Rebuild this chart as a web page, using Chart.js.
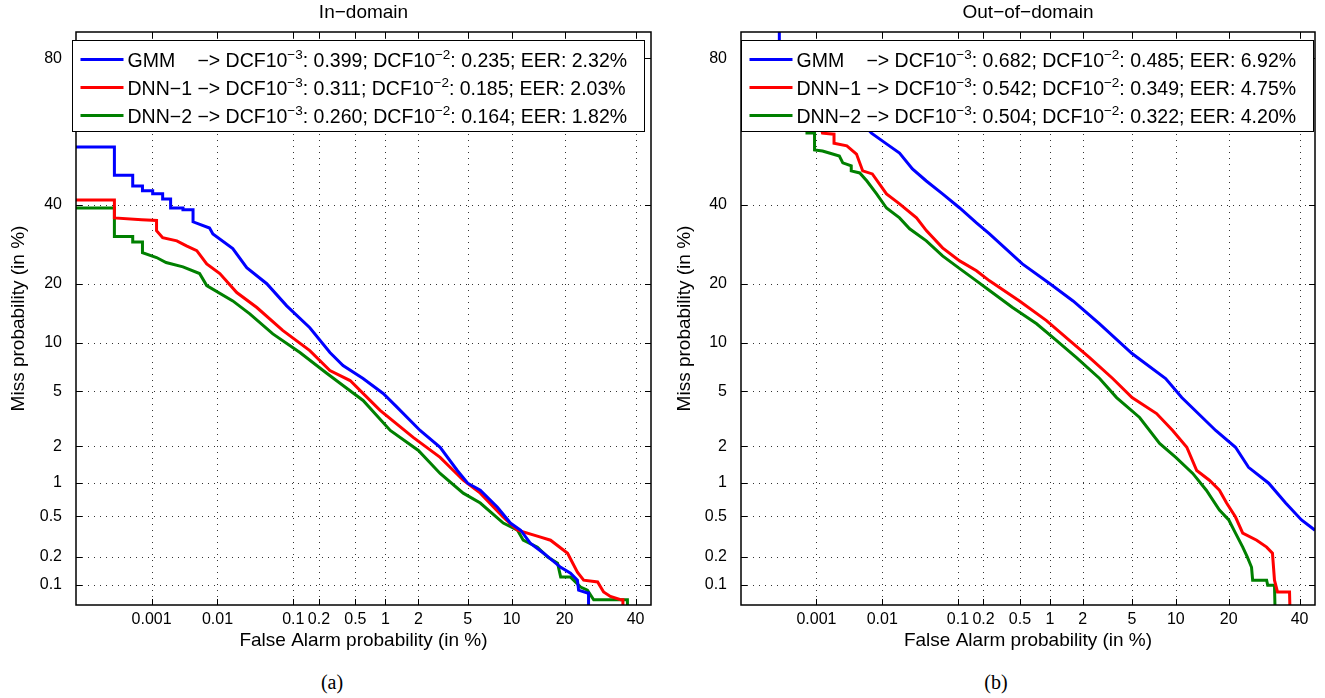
<!DOCTYPE html>
<html>
<head>
<meta charset="utf-8">
<script src="https://cdn.jsdelivr.net/npm/chart.js@4.4.1/dist/chart.umd.min.js"></script>
<style>
  body { margin: 0; background: #fff; width: 1325px; height: 698px; overflow: hidden; position: relative; }
  .panel { position: absolute; top: 0; height: 665px; }
  #panelA { left: 0; width: 660px; }
  #panelB { left: 660px; width: 665px; }
  .caption { position: absolute; top: 670px; width: 60px; text-align: center; font: 20px "Liberation Serif", serif; line-height: 24px; }
</style>
</head>
<body>
<div class="panel" id="panelA"><canvas id="chartA"></canvas></div>
<div class="panel" id="panelB"><canvas id="chartB"></canvas></div>
<div class="caption" style="left:302px">(a)</div>
<div class="caption" style="left:966px">(b)</div>
<script>
// axis ticks (percent)
const xTicks = [0.001, 0.01, 0.1, 0.2, 0.5, 1, 2, 5, 10, 20, 40];
const yTicks = [0.1, 0.2, 0.5, 1, 2, 5, 10, 20, 40, 80];

const systems = ['GMM', 'DNN−1', 'DNN−2'];
const colors = ['#0000ff', '#ff0000', '#008000'];

// legend numbers
const inDcf3 = [0.399, 0.311, 0.260];
const inDcf2 = [0.235, 0.185, 0.164];
const inEer = [2.32, 2.03, 1.82];
const outDcf3 = [0.682, 0.542, 0.504];
const outDcf2 = [0.485, 0.349, 0.322];
const outEer = [6.92, 4.75, 4.20];

// In-domain curves: false alarm % / miss %
const inGmmFa = [0.00002, 0.00024, 0.00024, 0.00049, 0.00049, 0.00071, 0.00071, 0.00104, 0.00104, 0.0015, 0.0015, 0.002, 0.002, 0.0031, 0.0031, 0.0044, 0.0044, 0.0077, 0.0086, 0.0164, 0.0254, 0.0466, 0.083, 0.157, 0.266, 0.37, 0.60, 0.95, 1.29, 2.07, 3.05, 4.17, 5.0, 6.17, 8.1, 9.83, 11.4, 13.0, 15.5, 19.1, 21.4, 23.1, 23.4, 25.7, 26.0, 26.0];
const inGmmMiss = [57.1, 57.1, 48.7, 48.7, 45.5, 45.5, 44.1, 44.1, 43.2, 43.2, 41.7, 41.7, 39.1, 39.1, 38.6, 38.6, 35.2, 33.5, 31.9, 28.1, 23.5, 20.0, 15.7, 12.1, 8.77, 7.33, 6.07, 4.84, 3.88, 2.64, 1.96, 1.27, 0.99, 0.86, 0.605, 0.43, 0.367, 0.274, 0.217, 0.155, 0.134, 0.113, 0.088, 0.082, 0.082, 0.01];

const inDnn1Fa = [0.00002, 0.00024, 0.00024, 0.00069, 0.0012, 0.0012, 0.0015, 0.0025, 0.0035, 0.005, 0.007, 0.0108, 0.0186, 0.0346, 0.074, 0.157, 0.266, 0.44, 0.706, 0.887, 1.80, 3.05, 4.63, 6.17, 8.85, 10.9, 14.9, 16.9, 20.7, 23.1, 24.7, 28.5, 30.2, 32.2, 35.3, 36.0, 36.0];
const inDnn1Miss = [41.4, 41.4, 36.3, 35.8, 35.6, 32.8, 30.9, 30.1, 28.8, 27.6, 24.4, 22.2, 18.2, 15.4, 11.7, 9.0, 6.82, 5.89, 4.34, 3.70, 2.34, 1.63, 1.05, 0.81, 0.49, 0.367, 0.314, 0.293, 0.217, 0.138, 0.113, 0.108, 0.084, 0.075, 0.0687, 0.0687, 0.01];

const inDnn2Fa = [0.00002, 0.00024, 0.00024, 0.00049, 0.00049, 0.00071, 0.00071, 0.0012, 0.0017, 0.0031, 0.0055, 0.007, 0.0164, 0.0279, 0.0557, 0.12, 0.247, 0.37, 0.60, 1.11, 2.0, 3.05, 4.63, 6.17, 8.85, 10.9, 11.8, 14.3, 16.3, 18.4, 19.1, 21.4, 23.9, 25.7, 27.4, 37.4, 37.7];
const inDnn2Miss = [39.1, 39.1, 31.2, 31.2, 29.8, 29.8, 27.1, 25.9, 24.7, 23.7, 22.2, 19.6, 16.6, 14.3, 11.2, 8.77, 6.53, 5.47, 4.34, 2.64, 1.85, 1.20, 0.81, 0.66, 0.43, 0.367, 0.293, 0.25, 0.198, 0.171, 0.122, 0.122, 0.095, 0.088, 0.0687, 0.0687, 0.01];

// Out-of-domain curves
const outGmmFa = [0.00024, 0.00024, 0.0015, 0.007, 0.0115, 0.0175, 0.0262, 0.040, 0.0645, 0.105, 0.166, 0.234, 0.53, 1.0, 1.64, 2.78, 5.0, 8.6, 10.9, 17.1, 21.6, 24.9, 30.5, 35.6, 40.6, 45, 50];
const outGmmMiss = [95, 82, 74, 61.1, 58.0, 55.3, 50.6, 47.0, 43.2, 39.1, 34.9, 31.9, 24.4, 20.0, 16.6, 12.7, 8.65, 6.07, 4.54, 2.64, 1.96, 1.35, 0.99, 0.66, 0.46, 0.367, 0.30];

const outDnn1Fa = [0.0006, 0.00125, 0.0019, 0.0019, 0.003, 0.0042, 0.0052, 0.0072, 0.0115, 0.0175, 0.0297, 0.040, 0.0645, 0.105, 0.166, 0.234, 0.495, 0.926, 1.52, 2.29, 3.55, 5.0, 7.48, 9.55, 11.7, 13.4, 15.8, 17.9, 19.5, 21.6, 23.4, 27.1, 29.9, 31.6, 32.2, 33.1, 36.8, 37.4];
const outDnn1Miss = [80, 61.1, 60.8, 58.2, 57.4, 55.0, 50.0, 49.1, 43.2, 40.3, 36.3, 32.8, 28.3, 25.1, 22.8, 20.6, 16.6, 13.2, 10.3, 8.18, 6.07, 4.54, 3.51, 2.64, 1.96, 1.27, 1.05, 0.86, 0.66, 0.49, 0.344, 0.293, 0.25, 0.217, 0.113, 0.084, 0.084, 0.01];

const outDnn2Fa = [0.0007, 0.0007, 0.00093, 0.00093, 0.00125, 0.0016, 0.0023, 0.0026, 0.0035, 0.0035, 0.0047, 0.006, 0.0083, 0.0115, 0.0175, 0.024, 0.040, 0.0645, 0.105, 0.166, 0.234, 0.418, 0.74, 1.15, 1.76, 2.78, 3.81, 5.68, 7.84, 10.0, 12.7, 15.2, 17.9, 20.0, 21.6, 23.4, 24.6, 25.7, 26.0, 29.9, 30.2, 32.2, 32.8];
const outDnn2Miss = [80, 61.1, 61.1, 56.2, 55.9, 55.3, 54.4, 52.4, 51.5, 50.0, 49.4, 47.0, 43.2, 39.1, 36.3, 33.3, 30.1, 26.3, 23.3, 20.6, 18.6, 15.4, 12.7, 10.3, 8.18, 6.07, 4.54, 3.29, 2.1, 1.63, 1.20, 0.86, 0.57, 0.46, 0.344, 0.25, 0.198, 0.155, 0.113, 0.113, 0.0998, 0.0998, 0.01];

const FONT = '"Liberation Sans", Arial, sans-serif';
Chart.defaults.font.family = FONT;
Chart.defaults.color = '#000';

// normal deviate (Acklam)
function probit(p) {
  const a = [-39.69683028665376, 220.9460984245205, -275.9285104469687, 138.3577518672690, -30.66479806614716, 2.506628277459239];
  const b = [-54.47609879822406, 161.5858368580409, -155.6989798598866, 66.80131188771972, -13.28068155288572];
  const c = [-0.007784894002430293, -0.3223964580411365, -2.400758277161838, -2.549732539343734, 4.374664141464968, 2.938163982698783];
  const d = [0.007784695709041462, 0.3224671290700398, 2.445134137142996, 3.754408661907416];
  let q, r;
  if (p < 0.02425) {
    q = Math.sqrt(-2 * Math.log(p));
    return (((((c[0]*q+c[1])*q+c[2])*q+c[3])*q+c[4])*q+c[5]) / ((((d[0]*q+d[1])*q+d[2])*q+d[3])*q+1);
  }
  if (p <= 1 - 0.02425) {
    q = p - 0.5; r = q * q;
    return (((((a[0]*r+a[1])*r+a[2])*r+a[3])*r+a[4])*r+a[5])*q / (((((b[0]*r+b[1])*r+b[2])*r+b[3])*r+b[4])*r+1);
  }
  q = Math.sqrt(-2 * Math.log(1 - p));
  return -(((((c[0]*q+c[1])*q+c[2])*q+c[3])*q+c[4])*q+c[5]) / ((((d[0]*q+d[1])*q+d[2])*q+d[3])*q+1);
}
function normCdf(z) {
  const t = 1 / (1 + 0.3275911 * Math.abs(z) / Math.SQRT2);
  const e = 1 - (((((1.061405429*t - 1.453152027)*t) + 1.421413741)*t - 0.284496736)*t + 0.254829592)*t*Math.exp(-z*z/2);
  return z >= 0 ? (1 + e) / 2 : (1 - e) / 2;
}

// DET (probit) axis, values in percent
class ProbitScale extends Chart.Scale {
  determineDataLimits() {
    this.min = this.options.min;
    this.max = this.options.max;
  }
  buildTicks() {
    return (this.axis === 'x' ? xTicks : yTicks).map(v => ({value: v}));
  }
  configure() {
    super.configure();
    this._zStart = probit(this.min / 100);
    this._zRange = probit(this.max / 100) - this._zStart;
  }
  getPixelForValue(value) {
    if (value === null || value === undefined || isNaN(value)) return NaN;
    const v = Math.min(Math.max(value, 1e-9), 100 - 1e-9);
    return this.getPixelForDecimal((probit(v / 100) - this._zStart) / this._zRange);
  }
  getValueForPixel(pixel) {
    return 100 * normCdf(this._zStart + this.getDecimalForPixel(pixel) * this._zRange);
  }
  getPixelForTick(index) {
    const t = this.ticks;
    return index < 0 || index >= t.length ? NaN : this.getPixelForValue(t[index].value);
  }
  getLabelForValue(v) { return String(v); }
}
ProbitScale.id = 'probit';
ProbitScale.defaults = {};
Chart.register(ProbitScale);

function points(fa, miss) {
  return fa.map((x, i) => ({x: x, y: miss[i]}));
}

function decor(title, dcf3, dcf2, eer, legendDx) {
  return {
    id: 'detDecor',
    beforeDatasetsDraw(chart) {
      const ctx = chart.ctx, a = chart.chartArea;
      const xs = chart.scales.x, ys = chart.scales.y;
      ctx.save();
      ctx.strokeStyle = 'rgba(0,0,0,0.8)';
      ctx.lineWidth = 1;
      ctx.setLineDash([1, 5]);
      xTicks.forEach(v => {
        const px = Math.round(xs.getPixelForValue(v)) + 0.5;
        ctx.beginPath(); ctx.moveTo(px, a.top); ctx.lineTo(px, a.bottom); ctx.stroke();
      });
      yTicks.forEach(v => {
        const py = Math.round(ys.getPixelForValue(v)) + 0.5;
        ctx.beginPath(); ctx.moveTo(a.left, py); ctx.lineTo(a.right, py); ctx.stroke();
      });
      ctx.restore();
    },
    afterDatasetsDraw(chart) {
      const ctx = chart.ctx, a = chart.chartArea;
      const xs = chart.scales.x, ys = chart.scales.y;
      ctx.save();
      // frame and inner ticks
      ctx.strokeStyle = '#000';
      ctx.lineWidth = 1;
      ctx.beginPath();
      xTicks.forEach(v => {
        const px = Math.round(xs.getPixelForValue(v)) + 0.5;
        ctx.moveTo(px, a.bottom); ctx.lineTo(px, a.bottom - 6);
        ctx.moveTo(px, a.top); ctx.lineTo(px, a.top + 6);
      });
      yTicks.forEach(v => {
        const py = Math.round(ys.getPixelForValue(v)) + 0.5;
        ctx.moveTo(a.left, py); ctx.lineTo(a.left + 6, py);
        ctx.moveTo(a.right, py); ctx.lineTo(a.right - 6, py);
      });
      ctx.stroke();
      ctx.lineWidth = 1.5;
      ctx.strokeRect(a.left, a.top, a.right - a.left, a.bottom - a.top);

      // legend
      const big = '19.5px ' + FONT, small = '13.5px ' + FONT;
      const bx = Math.round(a.left + legendDx) + 0.5, by = Math.round(a.top + 8) + 0.5;
      const textX = bx + 55;
      ctx.font = big;
      const arrowX = textX + ctx.measureText('DNN−1 ').width;
      const rows = systems.map((s, i) => [
        ['−> DCF10', big, 0], ['−3', small, -8], [': ' + dcf3[i].toFixed(3) + '; DCF10', big, 0],
        ['−2', small, -8], [': ' + dcf2[i].toFixed(3) + '; EER: ' + eer[i].toFixed(2) + '%', big, 0]
      ]);
      let maxEnd = 0;
      rows.forEach(parts => {
        let x = arrowX;
        parts.forEach(p => { ctx.font = p[1]; x += ctx.measureText(p[0]).width; });
        maxEnd = Math.max(maxEnd, x);
      });
      const bw = Math.round(maxEnd - bx + 17), bh = 91;
      ctx.fillStyle = '#fff';
      ctx.fillRect(bx, by, bw, bh);
      ctx.lineWidth = 1;
      ctx.strokeRect(bx, by, bw, bh);
      ctx.fillStyle = '#000';
      ctx.textBaseline = 'alphabetic';
      ctx.textAlign = 'left';
      rows.forEach((parts, i) => {
        const cy = by + 19 + i * 28;
        ctx.strokeStyle = colors[i];
        ctx.lineWidth = 3;
        ctx.beginPath(); ctx.moveTo(bx + 8, cy); ctx.lineTo(bx + 51, cy); ctx.stroke();
        ctx.font = big;
        ctx.fillText(systems[i], textX, cy + 7);
        let x = arrowX;
        parts.forEach(p => {
          ctx.font = p[1];
          ctx.fillText(p[0], x, cy + 7 + p[2]);
          x += ctx.measureText(p[0]).width;
        });
      });

      // title
      ctx.font = '19px ' + FONT;
      ctx.textAlign = 'center';
      ctx.textBaseline = 'middle';
      ctx.fillText(title, (a.left + a.right) / 2, 13);
      ctx.restore();
    }
  };
}

function makeChart(id, title, data, dcf3, dcf2, eer, yWidth, padRight, yTitlePad, legendDx) {
  return new Chart(document.getElementById(id), {
    type: 'line',
    data: {
      datasets: data.map((d, i) => ({
        label: systems[i],
        data: points(d[0], d[1]),
        borderColor: colors[i],
        borderWidth: 3,
        pointRadius: 0,
        tension: 0,
        fill: false
      }))
    },
    options: {
      responsive: true,
      maintainAspectRatio: false,
      animation: false,
      layout: {padding: {top: 32, right: padRight, bottom: 0, left: 0}},
      plugins: {legend: {display: false}, tooltip: {enabled: false}},
      scales: {
        x: {
          type: 'probit', position: 'bottom', min: 0.00005, max: 45,
          grid: {display: false, drawTicks: false}, border: {display: false},
          ticks: {autoSkip: false, maxRotation: 0, padding: 5, font: {size: 16}},
          title: {display: true, text: 'False Alarm probability (in %)', font: {size: 19}, padding: {top: 0, bottom: 13}},
          afterFit: s => { s.height = 60; }
        },
        y: {
          type: 'probit', position: 'left', min: 0.06, max: 85,
          grid: {display: false, drawTicks: false}, border: {display: false},
          ticks: {autoSkip: false, padding: 14, font: {size: 16}},
          title: {display: true, text: 'Miss probability (in %)', font: {size: 19}, padding: {top: yTitlePad, bottom: 0}},
          afterFit: s => { s.width = yWidth; }
        }
      }
    },
    plugins: [decor(title, dcf3, dcf2, eer, legendDx)]
  });
}

makeChart('chartA', 'In−domain',
  [[inGmmFa, inGmmMiss], [inDnn1Fa, inDnn1Miss], [inDnn2Fa, inDnn2Miss]],
  inDcf3, inDcf2, inEer, 76, 9, 7, -4);
makeChart('chartB', 'Out−of−domain',
  [[outGmmFa, outGmmMiss], [outDnn1Fa, outDnn1Miss], [outDnn2Fa, outDnn2Miss]],
  outDcf3, outDcf2, outEer, 81, 10, 13, 0);
</script>
</body>
</html>
